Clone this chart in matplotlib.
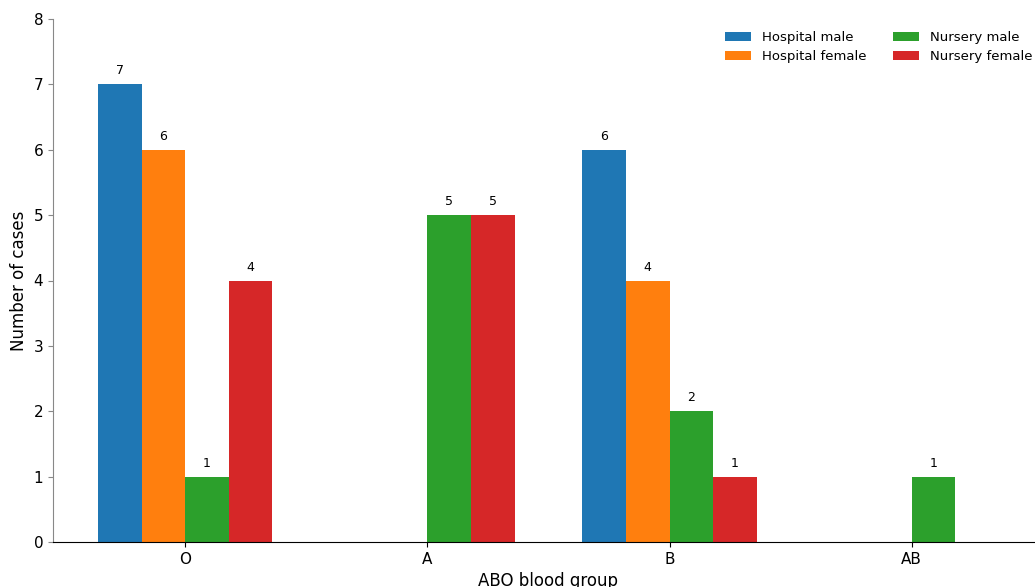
import matplotlib
matplotlib.use("Agg")
import matplotlib.pyplot as plt
import numpy as np

groups = ["O", "A", "B", "AB"]
series = ["Hospital male", "Hospital female", "Nursery male", "Nursery female"]
hospital_male = [7, 0, 6, 0]
hospital_female = [6, 0, 4, 0]
nursery_male = [1, 5, 2, 1]
nursery_female = [4, 5, 1, 0]
colors = ["#1f77b4", "#ff7f0e", "#2ca02c", "#d62728"]

data = [hospital_male, hospital_female, nursery_male, nursery_female]

fig = plt.figure(figsize=(10.35, 5.87), dpi=100)
ax = fig.add_axes([53/1035, 45/587, 991/1035, 523/587])

x = np.arange(len(groups))
w = 0.18
for i, (vals, name, c) in enumerate(zip(data, series, colors)):
    pos = x + (i - 1.5) * w
    bars = ax.bar(pos, vals, w, label=name, color=c)
    labels = [str(v) if v > 0 else "" for v in vals]
    ax.bar_label(bars, labels=labels, padding=5, fontsize=9)

ax.set_xticks(x)
ax.set_xticklabels(groups, fontsize=11)
ax.set_ylim(0, 8)
ax.set_yticks(range(0, 9))
ax.tick_params(axis="y", labelsize=11, color="#888888")
ax.set_xlabel("ABO blood group", fontsize=12)
ax.set_ylabel("Number of cases", fontsize=12)
ax.spines["top"].set_visible(False)
ax.spines["right"].set_visible(False)
ax.spines["left"].set_color("#888888")
ax.legend(ncol=2, frameon=False, fontsize=9.5, loc="upper right")

fig.savefig("out.png", dpi=100)
